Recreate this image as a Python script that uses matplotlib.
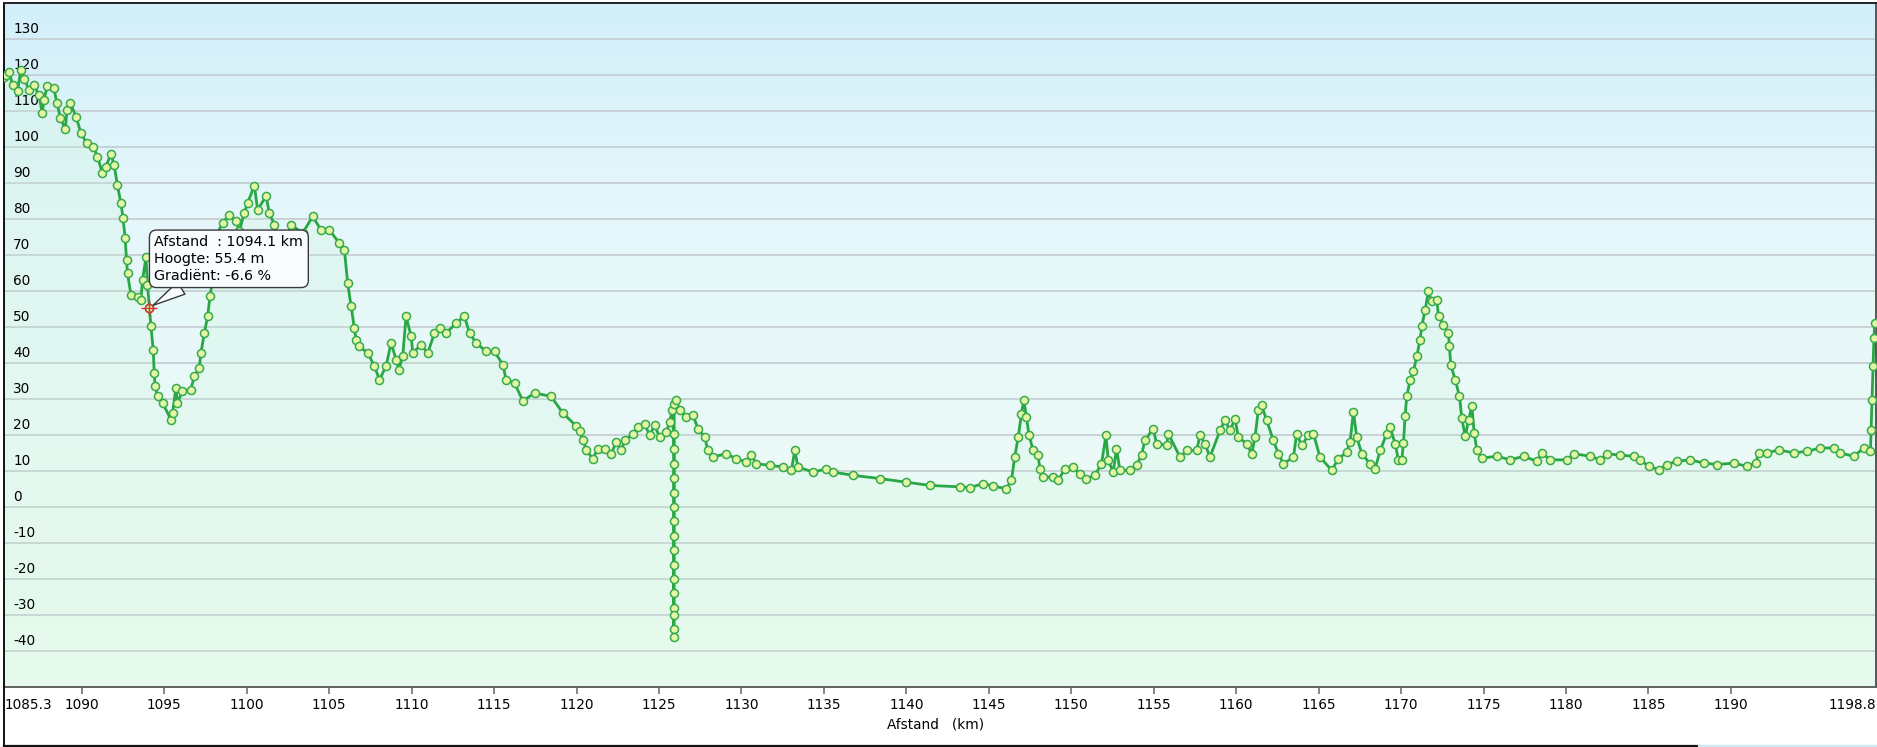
import numpy as np
import matplotlib.pyplot as plt
from matplotlib.colors import LinearSegmentedColormap
from matplotlib.transforms import blended_transform_factory
from matplotlib.lines import Line2D

km = [1085.3, 1085.39, 1085.6, 1085.8, 1086.1, 1086.3, 1086.5, 1086.8, 1087.1, 1087.4,
      1087.6, 1087.7, 1087.9, 1088.3, 1088.5, 1088.7, 1089.0, 1089.1, 1089.3, 1089.65,
      1089.95, 1090.3, 1090.7, 1090.95, 1091.25, 1091.45, 1091.76, 1091.96, 1092.16, 1092.37,
      1092.5, 1092.63, 1092.71, 1092.77, 1092.98, 1093.38, 1093.58, 1093.68, 1093.89, 1093.98,
      1094.1, 1094.19, 1094.33, 1094.39, 1094.45, 1094.59, 1094.9, 1095.4, 1095.5, 1095.7,
      1095.8, 1096.1, 1096.6, 1096.82, 1097.12, 1097.22, 1097.43, 1097.63, 1097.77, 1097.93,
      1098.05, 1098.17, 1098.54, 1098.94, 1099.35, 1099.55, 1099.85, 1100.05, 1100.46, 1100.66,
      1101.17, 1101.37, 1101.67, 1102.18, 1102.68, 1103.39, 1104.0, 1104.5, 1105.0, 1105.62,
      1105.92, 1106.12, 1106.33, 1106.53, 1106.63, 1106.83, 1107.34, 1107.74, 1108.05, 1108.45,
      1108.75, 1109.06, 1109.22, 1109.46, 1109.66, 1109.97, 1110.07, 1110.57, 1110.98, 1111.38,
      1111.69, 1112.09, 1112.7, 1113.2, 1113.51, 1113.91, 1114.52, 1115.03, 1115.53, 1115.73,
      1116.24, 1116.75, 1117.45, 1118.46, 1119.17, 1119.98, 1120.2, 1120.4, 1120.6, 1120.99,
      1121.29, 1121.7, 1122.1, 1122.41, 1122.71, 1122.91, 1123.42, 1123.72, 1124.13, 1124.43,
      1124.73, 1125.04, 1125.44, 1125.64, 1125.8, 1125.88, 1125.9, 1125.9, 1125.9, 1125.9,
      1125.9, 1125.9, 1125.9, 1125.9, 1125.9, 1125.9, 1125.9, 1125.9, 1125.9, 1125.9,
      1125.9, 1125.92, 1126.05, 1126.25, 1126.65, 1127.06, 1127.36, 1127.77, 1127.97, 1128.27,
      1129.08, 1129.69, 1130.3, 1130.6, 1130.9, 1131.71, 1132.52, 1133.03, 1133.23, 1133.43,
      1134.34, 1135.15, 1135.55, 1136.77, 1138.39, 1140.0, 1141.42, 1143.24, 1143.85, 1144.66,
      1145.26, 1146.07, 1146.37, 1146.57, 1146.78, 1146.98, 1147.12, 1147.28, 1147.44, 1147.69,
      1147.99, 1148.09, 1148.29, 1148.9, 1149.2, 1149.61, 1150.11, 1150.52, 1150.92, 1151.43,
      1151.83, 1152.1, 1152.24, 1152.54, 1152.74, 1152.95, 1153.55, 1153.96, 1154.26, 1154.46,
      1154.97, 1155.17, 1155.78, 1155.88, 1156.59, 1157.0, 1157.6, 1157.8, 1158.1, 1158.41,
      1159.02, 1159.32, 1159.62, 1159.93, 1160.13, 1160.63, 1160.94, 1161.14, 1161.34, 1161.54,
      1161.85, 1162.25, 1162.56, 1162.86, 1163.47, 1163.67, 1163.97, 1164.38, 1164.68, 1165.08,
      1165.79, 1166.2, 1166.7, 1166.9, 1167.11, 1167.31, 1167.62, 1168.12, 1168.42, 1168.73,
      1169.13, 1169.33, 1169.64, 1169.84, 1170.04, 1170.14, 1170.24, 1170.34, 1170.55, 1170.75,
      1170.95, 1171.15, 1171.25, 1171.46, 1171.65, 1171.86, 1172.16, 1172.27, 1172.57, 1172.87,
      1172.93, 1173.01, 1173.28, 1173.54, 1173.68, 1173.89, 1174.09, 1174.29, 1174.43, 1174.59,
      1174.9, 1175.81, 1176.62, 1177.43, 1178.23, 1178.54, 1179.04, 1180.06, 1180.46, 1181.47,
      1182.08, 1182.48, 1183.29, 1184.1, 1184.5, 1185.01, 1185.62, 1186.12, 1186.73, 1187.54,
      1188.35, 1189.16, 1190.17, 1190.98, 1191.49, 1191.69, 1192.19, 1192.9, 1193.81, 1194.62,
      1195.43, 1196.24, 1196.64, 1197.45, 1198.06, 1198.46, 1198.5, 1198.56, 1198.62, 1198.67,
      1198.72]
hoogte = [119.5, 120, 120.9, 117.2, 115.6, 121.4, 119, 115.8, 117.2, 114.4,
          109.4, 113, 116.9, 116.3, 112.2, 108, 105, 110.3, 112.2, 108.4,
          103.8, 101, 100.1, 97.3, 92.7, 94.5, 98, 95, 89.4, 84.4,
          80.2, 74.6, 68.6, 64.9, 58.9, 58.4, 57.5, 63, 69.5, 61.7,
          55.4, 50.2, 43.7, 37.2, 33.5, 30.7, 28.9, 24.3, 26, 33,
          29, 32.1, 32.6, 36.3, 38.6, 42.8, 48.3, 53, 58.5, 63.1,
          69, 75.6, 78.9, 81.2, 79.4, 76.6, 81.7, 84.4, 89.3, 82.6,
          86.3, 81.7, 78.4, 69.6, 78.4, 76.1, 80.7, 77, 77, 73.3,
          71.5, 62.2, 55.7, 49.7, 46.5, 44.6, 42.8, 39.1, 35.4, 39.1,
          45.6, 40.9, 38.1, 41.9, 53, 47.4, 42.8, 45.1, 42.8, 48.3,
          49.7, 48.3, 51.1, 53, 48.3, 45.6, 43.2, 43.2, 39.5, 35.4,
          34.4, 29.4, 31.7, 30.7, 26.1, 22.5, 21, 18.5, 15.7, 13.4,
          16.2, 16.2, 14.8, 18.1, 15.7, 18.5, 20.4, 22.2, 23.1, 19.9,
          22.7, 19.4, 20.8, 23.6, 27, 20.4, 16, 12, 8, 4,
          0, -4, -8, -12, -16, -20, -24, -28, -30, -34,
          -36, 28.5, 29.6, 26.9, 25, 25.5, 21.8, 19.4, 15.7, 13.9,
          14.8, 13.4, 12.5, 14.4, 12, 11.6, 11.1, 10.2, 15.7, 11.1,
          9.7, 10.6, 9.7, 8.8, 7.9, 6.9, 6, 5.6, 5.4, 6.5,
          5.8, 5.1, 7.4, 13.9, 19.4, 25.9, 29.8, 25, 19.9, 15.7,
          14.4, 10.6, 8.3, 8.3, 7.4, 10.6, 11.1, 9.3, 7.9, 8.8,
          12, 19.9, 13, 9.7, 16.2, 10.2, 10.2, 11.6, 14.4, 18.5,
          21.8, 17.6, 17.2, 20.4, 13.9, 15.7, 15.7, 19.9, 17.6, 13.9,
          21.3, 24.1, 21.3, 24.5, 19.4, 17.6, 14.8, 19.4, 26.9, 28.2,
          24.1, 18.5, 14.8, 12, 13.9, 20.4, 17.1, 19.9, 20.4, 13.9,
          10.2, 13.4, 15.3, 18.1, 26.4, 19.4, 14.8, 12, 10.6, 15.7,
          20.4, 22.2, 17.6, 13, 13.1, 17.8, 25.2, 30.7, 35.4, 37.7,
          41.9, 46.5, 50.2, 54.8, 59.9, 57.1, 57.6, 53, 50.6, 48.3,
          44.6, 39.5, 35.4, 30.7, 24.7, 19.6, 24.3, 28, 20.6, 15.9,
          13.6, 14.1, 13.1, 14.1, 12.7, 15, 13.1, 13.1, 14.8, 14.1,
          13.1, 14.8, 14.4, 14.1, 13.1, 11.3, 10.4, 11.8, 12.7, 13.1,
          12.2, 11.8, 12.2, 11.3, 12.2, 15, 15, 15.9, 15, 15.5,
          16.4, 16.4, 15, 14.1, 16.4, 15.5, 21.5, 29.8, 39.1, 47,
          51.1]

x_start, x_end = 1085.3, 1198.8
x_ticks = [1090, 1095, 1100, 1105, 1110, 1115, 1120, 1125, 1130, 1135, 1140, 1145,
           1150, 1155, 1160, 1165, 1170, 1175, 1180, 1185, 1190]
y_ticks = [-40, -30, -20, -10, 0, 10, 20, 30, 40, 50, 60, 70, 80, 90, 100, 110, 120, 130]
y_min, y_max = -50, 140

tip_km = 1094.1
tip_h = 55.4
tip_grad = -6.6

fig = plt.figure(figsize=(18.77, 7.47), dpi=100)
fig.patch.set_facecolor('white')
ax = fig.add_axes([0.0023, 0.0803, 0.9972, 0.9157])

# achtergrond: verloop van lichtblauw (boven) naar mintgroen (onder)
bg = LinearSegmentedColormap.from_list(
    'bg', [(0, '#effcf4'), (0.35, '#ebfaf7'), (0.7, '#e5f7fb'), (1, '#d2eff9')])
ax.imshow(np.linspace(0, 1, 256).reshape(-1, 1), cmap=bg, origin='lower',
          aspect='auto', extent=(x_start, x_end, y_min, y_max), zorder=0)

for v in y_ticks:
    ax.axhline(v, color='#c6cfd3', lw=1.3, zorder=1)

ax.fill_between(km, hoogte, y_min, color='#c8f2d4', alpha=0.22, lw=0, zorder=1.5)
ax.plot(km, hoogte, color='#28a745', lw=2.0, marker='o', ms=5.8, mfc='#e4f5a6',
        mec='#37ab4b', mew=1.1, zorder=3)

# y-labels binnen de grafiek, net boven de rasterlijn
trans = blended_transform_factory(ax.transAxes, ax.transData)
for v in y_ticks:
    ax.annotate(str(v), xy=(0, v), xycoords=trans, xytext=(9, 10),
                textcoords='offset pixels', ha='left', va='center',
                fontsize=9.8, color='black', zorder=2)

# tooltip met richtkruis
ax.plot(tip_km, tip_h, marker='o', ms=6, mfc='none', mec='#e03030', mew=1.0, zorder=5)
ax.plot(tip_km, tip_h, marker='+', ms=12, mec='#e03030', mew=1.0, zorder=5)
tip_txt = f'Afstand  : {tip_km} km\nHoogte: {tip_h} m\nGradiënt: {tip_grad} %'
ax.annotate(tip_txt, xy=(tip_km, tip_h), xytext=(5, 25), textcoords='offset pixels',
            ha='left', va='bottom', fontsize=10.3, linespacing=1.25, zorder=6,
            bbox=dict(boxstyle='round,pad=0.35,rounding_size=0.5', fc='#f8fcfe',
                      ec='#3a3a3a', lw=1),
            arrowprops=dict(arrowstyle='wedge,tail_width=1.0,shrink_factor=0.5',
                            fc='#f8fcfe', ec='#3a3a3a', lw=1, shrinkA=0, shrinkB=3))

ax.set_xlim(x_start, x_end)
ax.set_ylim(y_min, y_max)
ax.set_yticks([])
ax.set_xticks([x_start] + x_ticks + [x_end])
ax.set_xticklabels([f'{x_start}'] + [str(t) for t in x_ticks] + [f'{x_end}'])
ax.tick_params(axis='x', direction='out', length=5, width=1.2, color='#707070',
               labelsize=9.8, pad=3)
labels = ax.get_xticklabels()
labels[0].set_ha('left')
labels[-1].set_ha('right')
ticks = ax.xaxis.get_major_ticks()
ticks[0].tick1line.set_visible(False)
ticks[-1].tick1line.set_visible(False)

ax.spines['left'].set_color('#111111')
ax.spines['top'].set_color('#222222')
ax.spines['right'].set_color('#555555')
ax.spines['bottom'].set_color('#606060')
for s in ax.spines.values():
    s.set_linewidth(1.4)

fig.text(0.4987, 1 - 725 / 747, 'Afstand   (km)', ha='center', va='center', fontsize=9.8)

# rand rond het geheel
fig.add_artist(Line2D([0.0023, 0.0023], [0, 0.0803], color='#111111', lw=1.4))
fig.add_artist(Line2D([0.0023, 0.905], [0.001, 0.001], color='#111111', lw=1.6))
fig.add_artist(Line2D([0.905, 1.0], [0.001, 0.001], color='#cfeaf7', lw=1.6))

fig.savefig('out.png', dpi=100)
